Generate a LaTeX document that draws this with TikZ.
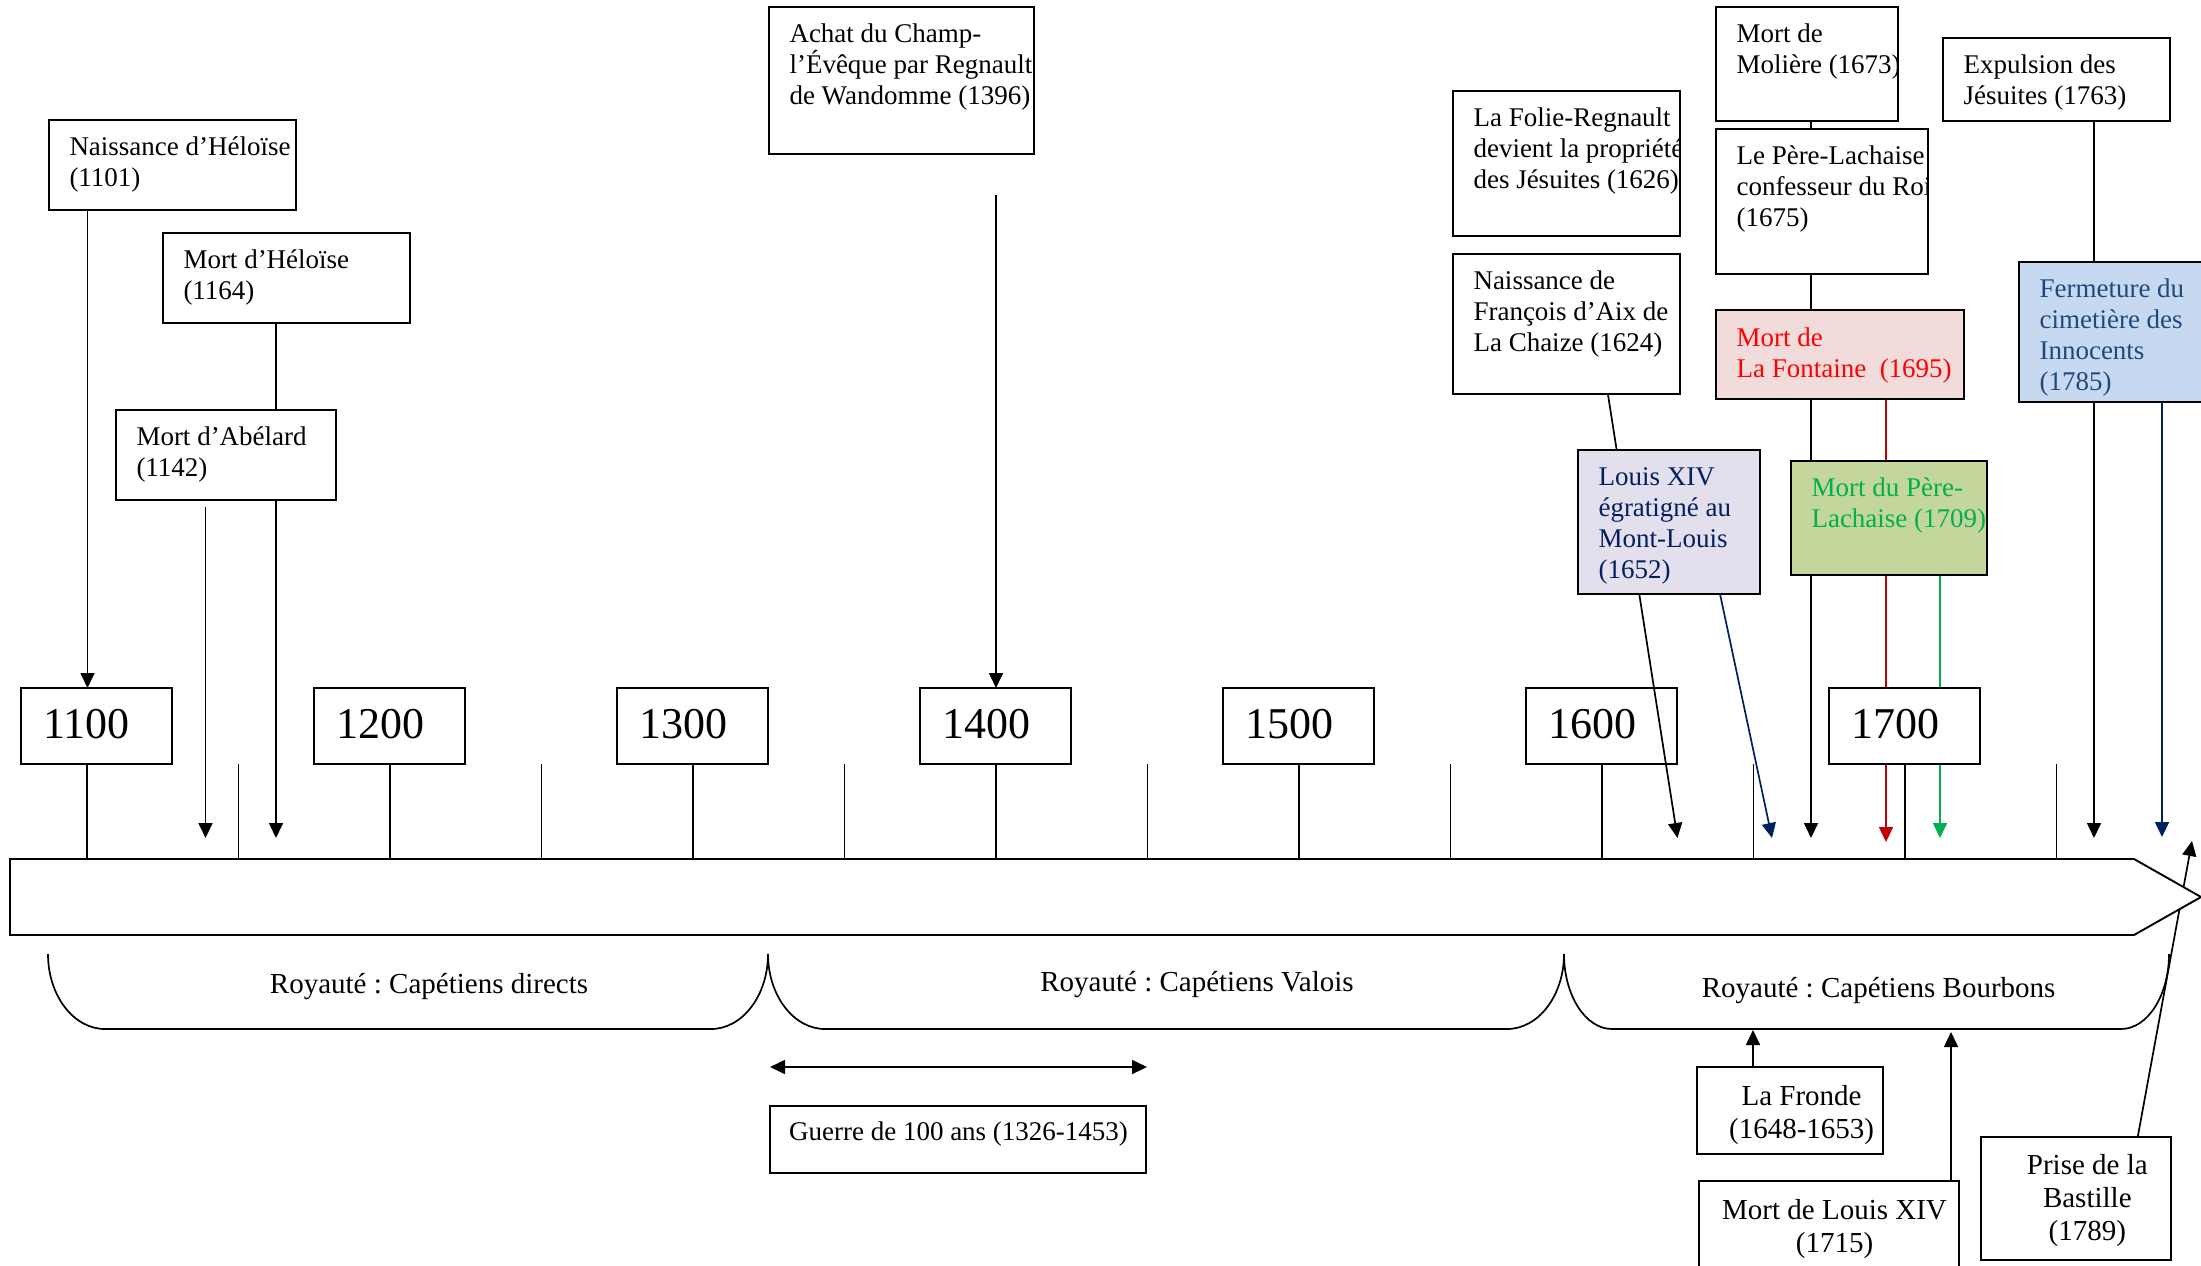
\documentclass[tikz,border=0pt]{standalone}
\usepackage{fontspec}
\setmainfont{Liberation Serif}
\usetikzlibrary{arrows.meta,calc}
\definecolor{lavf}{HTML}{E4DFEC}
\definecolor{navyl}{HTML}{002060}
\definecolor{pinkf}{HTML}{F2DCDB}
\definecolor{redt}{HTML}{FF0000}
\definecolor{redl}{HTML}{C00000}
\definecolor{greenf}{HTML}{C3D69B}
\definecolor{greent}{HTML}{00B050}
\definecolor{bluef}{HTML}{C6D9F1}
\definecolor{bluet}{HTML}{1F497D}
\frenchspacing
\newcommand\evfont{\fontsize{27}{31}\selectfont\lineskiplimit=-100pt\lineskip=0pt\relax}
\newcommand\bgfont{\fontsize{29}{33.4}\selectfont\lineskiplimit=-100pt\lineskip=0pt\relax}
\newcommand\yrfont{\fontsize{44}{50}\selectfont}
\pgfdeclarelayer{lzero}
\pgfdeclarelayer{lone}
\pgfdeclarelayer{ltwo}
\pgfdeclarelayer{lthree}
\pgfsetlayers{lzero,lone,ltwo,lthree,main}
% name, x, y, w, h, fill, text colour, text dy, text
\newcommand\evbox[9]{%
  \node[bx, fill=#6, minimum width=#4pt, minimum height=#5pt] (#1) at (#2,#3) {};
  \begin{scope}
    \clip (#1.north west) rectangle (#1.south east);
    \node[tx, text=#7] (#1-t) at ($(#1.north west)+(20.3,#8)$) {\strut #9};
  \end{scope}
  \draw[line width=1.9pt] (#1.north west) rectangle (#1.south east);
}
\begin{document}
\begin{tikzpicture}[x=1pt,y=-1pt,
  bx/.style={draw, line width=1.9pt, fill=white, inner sep=0pt, outer sep=0pt, anchor=north west},
  tx/.style={anchor=north west, inner sep=0pt, align=left, font=\evfont},
  ctx/.style={anchor=north, inner sep=0pt, align=center, font=\bgfont},
  ln/.style={line width=1.7pt},
  ar/.style={ln, -{Triangle[length=15pt,width=14pt]}},
  dar/.style={ln, {Triangle[length=15pt,width=14pt]}-{Triangle[length=15pt,width=14pt]}},
]
\useasboundingbox (0,0) rectangle (2201,1266);
\clip (0,0) rectangle (2201,1266);

% ---------- event boxes (top layer) ----------
\evbox{nh}{49}{120}{247}{90}{white}{black}{13.3}{Naissance d’Héloïse\\(1101)}
\evbox{mh}{163}{233}{247}{90}{white}{black}{13.3}{Mort d’Héloïse\\(1164)}
\evbox{ma}{116}{410}{220}{90}{white}{black}{13.3}{Mort d’Abélard\\(1142)}
\evbox{ac}{769}{7}{265}{147}{white}{black}{13.3}{Achat du Champ-\\l’Évêque par Regnault\\de Wandomme (1396)}
\evbox{fr}{1453}{91}{227}{145}{white}{black}{13.3}{La Folie-Regnault\\devient la propriété\\des Jésuites (1626).}
\evbox{fa}{1453}{254}{227}{140}{white}{black}{13.3}{Naissance de\\François d’Aix de\\La Chaize (1624)}
\evbox{lx}{1578}{450}{182}{144}{lavf}{navyl}{13.3}{Louis XIV\\égratigné au\\Mont-Louis\\(1652)}
\evbox{mo}{1716}{7}{182}{114}{white}{black}{13.3}{Mort de\\Molière (1673)}
\evbox{pl}{1716}{129}{212}{145}{white}{black}{13.3}{Le Père-Lachaise\\confesseur du Roi\\(1675)}
\evbox{lf}{1716}{310}{248}{89}{pinkf}{redt}{14.5}{Mort de\\La Fontaine~ (1695)}
\evbox{mp}{1791}{461}{196}{114}{greenf}{greent}{13.3}{Mort du Père-\\Lachaise (1709)}
\evbox{ej}{1943}{38}{227}{83}{white}{black}{13.3}{Expulsion des\\Jésuites (1763)}
\evbox{fc}{2019}{262}{210}{140}{bluef}{bluet}{13.3}{Fermeture du\\cimetière des\\Innocents\\(1785)}

% ---------- bottom boxes ----------
\node[bx, minimum width=376pt, minimum height=67pt] (gu) at (770,1106) {};
\node[anchor=base, inner sep=0pt, font=\evfont] (gu-t) at (958.5,1140) {Guerre de 100 ans (1326-1453)};
\node[bx, minimum width=186pt, minimum height=87pt] (fd) at (1697,1067) {};
\node[ctx] (fd-t) at (1801.6,1081.6) {\strut La Fronde\\(1648-1653)};
\node[bx, minimum width=260pt, minimum height=110pt] (ml) at (1699,1181) {};
\node[ctx] (ml-t) at (1834.5,1195.6) {\strut Mort de Louis XIV\\(1715)};
\node[bx, minimum width=190pt, minimum height=123pt] (ba) at (1981,1137) {};
\node[ctx] (ba-t) at (2087.3,1150.6) {\strut Prise de la\\Bastille\\(1789)};

% ---------- century boxes ----------
\begin{pgfonlayer}{ltwo}
\foreach \yr/\xl in {1100/21,1200/314,1300/617,1400/920,1500/1223,1600/1526,1700/1829} {
  \node[bx, minimum width=151pt, minimum height=76pt] (y\yr) at (\xl,688) {};
  \node[anchor=base west, inner sep=0pt, font=\yrfont] (y\yr-t) at ({\xl+22},738) {\yr};
}
\end{pgfonlayer}

% ---------- timeline points ----------
\coordinate (t1101) at (87.5,688);
\coordinate (t1142) at (205.5,838);
\coordinate (t1164) at (276,838);
\coordinate (t1396) at (996,688);
\coordinate (t1624) at (1677.5,838);
\coordinate (t1652) at (1772,838);
\coordinate (t1673) at (1811,838);
\coordinate (t1695) at (1886,842);
\coordinate (t1709) at (1940,838);
\coordinate (t1763) at (2094,838);
\coordinate (t1785) at (2162,837);
\coordinate (t1789) at (2192,841);
\coordinate (tfr) at (1753,1030);
\coordinate (tml) at (1951,1032);
\coordinate (g1) at (770,1067);
\coordinate (g2) at (1147,1067);

% ---------- timeline, ticks, braces, connectors ----------
\begin{pgfonlayer}{lone}
\foreach \i in {0,...,13} \draw[ln] ({87+151.5*\i},764) -- ({87+151.5*\i},859);
\draw[line width=1.9pt, fill=white] (10,859) -- (2134,859) -- (2201,897) -- (2134,935) -- (10,935) -- cycle;
\draw[ln] (48,954) .. controls (48,995.4) and (73.5,1029) .. (105,1029) -- (711,1029)
  .. controls (742.5,1029) and (768,995.4) .. (768,954)
  .. controls (768,995.4) and (793.5,1029) .. (825,1029) -- (1507,1029)
  .. controls (1538.5,1029) and (1564,995.4) .. (1564,954)
  .. controls (1564,995.4) and (1585.5,1029) .. (1612,1029) -- (2121,1029)
  .. controls (2147.5,1029) and (2169,995.4) .. (2169,954);
\node[anchor=base, inner sep=0pt, font=\bgfont] (rd) at (429,993) {Royauté : Capétiens directs};
\node[anchor=base, inner sep=0pt, font=\bgfont] (rv) at (1197,991) {Royauté : Capétiens Valois};
\node[anchor=base, inner sep=0pt, font=\bgfont] (rb) at (1878.6,997) {Royauté : Capétiens Bourbons};

\draw[ar] (nh.south -| t1101) -- (t1101);
\draw[ar] (mh.south -| t1164) -- (t1164);
\draw[ar, shorten <=7pt] (ma.south -| t1142) -- (t1142);
\draw[ar, shorten <=41pt] (ac.south -| t1396) -- (t1396);
\draw[ar, navyl] (lx.south -| 1720,0) -- (t1652);
\draw[ar] (mo.south -| t1673) -- (t1673);
\draw[ar, redl] (lf.south -| t1695) -- (t1695);
\draw[ar, greent] (mp.south -| t1709) -- (t1709);
\draw[ar] (ej.south -| t1763) -- (t1763);
\draw[ar, navyl] (fc.south -| t1785) -- (t1785);
\draw[ar] (fd.north -| tfr) -- (tfr);
\draw[ar] (ml.north -| tml) -- (tml);
\draw[dar] (g1) -- (g2);
\end{pgfonlayer}

\begin{pgfonlayer}{lzero}
\draw[ar] (ba.north -| 2137.7,0) -- (t1789);
\end{pgfonlayer}

\begin{pgfonlayer}{lthree}
\draw[ar] ($(fa.south west)+(153,-12)$) -- (t1624);
\end{pgfonlayer}
\end{tikzpicture}
\end{document}
